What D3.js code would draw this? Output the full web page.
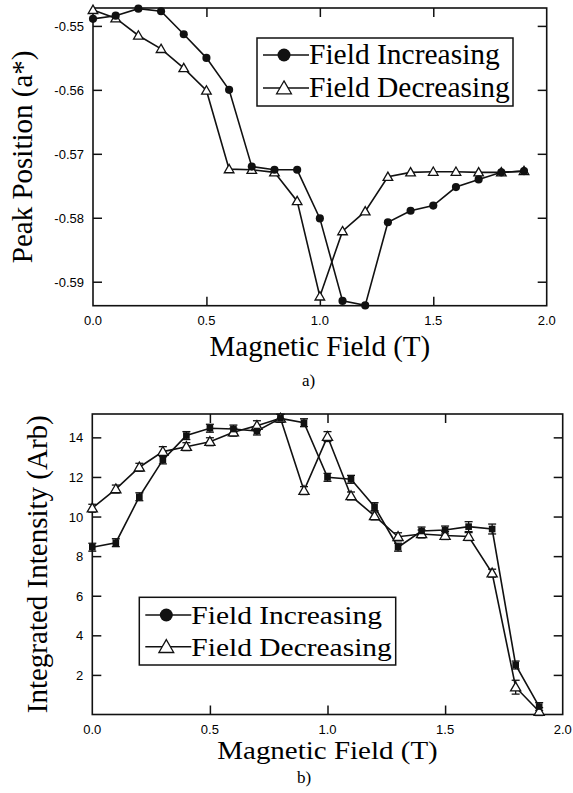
<!DOCTYPE html>
<html>
<head>
<meta charset="utf-8">
<script src="https://cdn.jsdelivr.net/npm/d3@7"></script>
<style>
  body { margin: 0; background: #fff; }
  svg { display: block; }
</style>
</head>
<body>
<div class="chart"></div>
<script>
// field values (T), shared by every series
const field = [0.0, 0.1, 0.2, 0.3, 0.4, 0.5, 0.6, 0.7, 0.8, 0.9, 1.0,
  1.1, 1.2, 1.3, 1.4, 1.5, 1.6, 1.7, 1.8, 1.9];

// panel a) peak position (a*)
const peakIncreasing = [-0.5489, -0.5484, -0.5473, -0.5477, -0.5513, -0.5550, -0.5600,
  -0.5720, -0.5725, -0.5725, -0.5801, -0.5930, -0.5937, -0.5807, -0.5789, -0.5781,
  -0.5752, -0.5740, -0.5729, -0.5727];
const peakDecreasing = [-0.5475, -0.5488, -0.5515, -0.5536, -0.5566, -0.5601, -0.5724,
  -0.5725, -0.5729, -0.5774, -0.5923, -0.5821, -0.5790, -0.5736, -0.5729, -0.5728,
  -0.5728, -0.5729, -0.5729, -0.5727];

// panel b) integrated intensity (arb)
const intIncreasing = [8.45, 8.68, 11.0, 12.86, 14.09, 14.46, 14.42, 14.32, 14.96, 14.74,
  11.98, 11.88, 10.5, 8.45, 9.27, 9.32, 9.49, 9.37, 2.5, 0.4];
const intDecreasing = [10.42, 11.39, 12.49, 13.28, 13.53, 13.78, 14.26, 14.59, 14.96, 11.31,
  14.04, 11.04, 10.03, 8.98, 9.12, 9.04, 8.99, 7.14, 1.38, 0.15];
const errIncreasing = [0.2, 0.2, 0.2, 0.2, 0.2, 0.2, 0.2, 0.2, 0.2, 0.2,
  0.2, 0.2, 0.2, 0.2, 0.2, 0.2, 0.25, 0.25, 0.2, 0.2];
const errDecreasing = [0.2, 0.2, 0.2, 0.25, 0.2, 0.2, 0.2, 0.25, 0.2, 0.2,
  0.25, 0.2, 0.2, 0.2, 0.2, 0.2, 0.2, 0.2, 0.35, 0.2];

const xTicks = [0.0, 0.5, 1.0, 1.5, 2.0];
const peakTicks = [-0.55, -0.56, -0.57, -0.58, -0.59];
const intTicks = [2, 4, 6, 8, 10, 12, 14];
const legendLabels = ['Field Increasing', 'Field Decreasing'];

const svg = d3.select('.chart')
  .append('svg')
  .attr('width', 573)
  .attr('height', 793);

const serif = '"Liberation Serif", "Times New Roman", serif';
const sans = '"Liberation Sans", Arial, sans-serif';

function drawPanel(p) {
  const x = d3.scaleLinear().domain([0, 2]).range([p.left, p.right]);
  const y = d3.scaleLinear().domain(p.yDomain).range([p.bottom, p.top]);
  const g = svg.append('g');

  // ticks, all pointing inward
  const inner = xTicks.filter(t => t > 0 && t < 2);
  g.append('g')
    .attr('transform', `translate(0, ${p.bottom})`)
    .call(d3.axisBottom(x).tickValues(inner).tickSize(-9).tickFormat(''));
  g.append('g')
    .attr('transform', `translate(0, ${p.top})`)
    .call(d3.axisTop(x).tickValues(inner).tickSize(-9).tickFormat(''));
  g.append('g')
    .attr('transform', `translate(${p.left}, 0)`)
    .call(d3.axisLeft(y).tickValues(p.yTicks).tickSize(-9).tickFormat(''));
  g.append('g')
    .attr('transform', `translate(${p.right}, 0)`)
    .call(d3.axisRight(y).tickValues(p.yTicks).tickSize(-9).tickFormat(''));
  g.selectAll('.domain').remove();
  g.selectAll('.tick line').attr('stroke', '#111').attr('stroke-width', 1.5);

  // frame
  g.append('rect')
    .attr('x', p.left).attr('y', p.top)
    .attr('width', p.right - p.left).attr('height', p.bottom - p.top)
    .attr('fill', 'none').attr('stroke', '#111').attr('stroke-width', 1.6);

  // tick labels
  g.selectAll('.xlab')
    .data(xTicks)
    .enter()
    .append('text')
    .attr('x', d => x(d))
    .attr('y', p.bottom + 19)
    .attr('text-anchor', 'middle')
    .style('font-family', sans).style('font-size', '13px')
    .text(d => d.toFixed(1));
  g.selectAll('.ylab')
    .data(p.yTicks)
    .enter()
    .append('text')
    .attr('x', p.left - 9)
    .attr('y', d => y(d) + 5)
    .attr('text-anchor', 'end')
    .style('font-family', sans).style('font-size', '13px')
    .text(p.yFormat);

  // axis titles
  g.append('text')
    .attr('transform', `translate(${(p.left + p.right) / 2}, ${p.xTitleY}) scale(1, ${p.xTitleScale})`)
    .attr('text-anchor', 'middle')
    .style('font-family', serif).style('font-size', '29px')
    .text('Magnetic Field (T)');
  g.append('text')
    .attr('transform', `translate(${p.yTitleX}, ${(p.top + p.bottom) / 2}) rotate(-90)`)
    .attr('text-anchor', 'middle')
    .style('font-family', serif).style('font-size', '29px')
    .text(p.yTitle);
  g.append('text')
    .attr('x', p.tagX).attr('y', p.tagY)
    .style('font-family', serif).style('font-size', '17px')
    .text(p.tag);

  const line = d3.line().x((d, i) => x(field[i])).y(d => y(d));
  const tri = d3.symbol().type(d3.symbolTriangle);

  [p.inc, p.dec].forEach(vals => {
    g.append('path')
      .datum(vals)
      .attr('d', line)
      .attr('fill', 'none')
      .attr('stroke', '#111')
      .attr('stroke-width', 1.6);
  });

  // error bars
  [[p.inc, p.incErr], [p.dec, p.decErr]].forEach(([vals, errs]) => {
    if (!errs) return;
    const eb = g.append('g').attr('stroke', '#111').attr('stroke-width', 1.3);
    vals.forEach((v, i) => {
      const cx = x(field[i]);
      const y0 = y(v - errs[i]), y1 = y(v + errs[i]);
      eb.append('line').attr('x1', cx).attr('x2', cx).attr('y1', y0).attr('y2', y1);
      eb.append('line').attr('x1', cx - 4).attr('x2', cx + 4).attr('y1', y0).attr('y2', y0);
      eb.append('line').attr('x1', cx - 4).attr('x2', cx + 4).attr('y1', y1).attr('y2', y1);
    });
  });

  g.selectAll('.dec')
    .data(p.dec)
    .enter()
    .append('path')
    .attr('transform', (d, i) => `translate(${x(field[i])}, ${y(d) + 0.8})`)
    .attr('d', tri.size(p.triSize))
    .attr('fill', '#fff')
    .attr('stroke', '#111')
    .attr('stroke-width', 1.3);

  g.selectAll('.inc')
    .data(p.inc)
    .enter()
    .append('path')
    .attr('transform', (d, i) => `translate(${x(field[i])}, ${y(d)})`)
    .attr('d', d3.symbol().type(p.dotShape).size(p.dotSize))
    .attr('fill', '#111');

  // legend
  const L = p.legend;
  g.append('rect')
    .attr('x', L.x).attr('y', L.y).attr('width', L.w).attr('height', L.h)
    .attr('fill', '#fff').attr('stroke', '#111').attr('stroke-width', 1.5);
  legendLabels.forEach((lab, i) => {
    const ry = L.y + L.row0 + i * L.rowGap;
    g.append('line')
      .attr('x1', L.x + 6).attr('x2', L.x + 52)
      .attr('y1', ry).attr('y2', ry)
      .attr('stroke', '#111').attr('stroke-width', 1.5);
    if (i === 0) {
      g.append('circle').attr('cx', L.x + 27).attr('cy', ry).attr('r', 6.5).attr('fill', '#111');
    } else {
      g.append('path')
        .attr('transform', `translate(${L.x + 27}, ${ry + 1.5})`)
        .attr('d', d3.symbol().type(d3.symbolTriangle).size(95))
        .attr('fill', '#fff').attr('stroke', '#111').attr('stroke-width', 1.3);
    }
    g.append('text')
      .attr('transform', `translate(${L.x + 52}, ${ry + 9}) scale(1, ${p.xTitleScale})`)
      .style('font-family', serif).style('font-size', '29.5px')
      .text(lab);
  });
}

drawPanel({
  left: 93, right: 546.7, top: 8, bottom: 305.7,
  yDomain: [-0.59375, -0.5472],
  yTicks: peakTicks,
  yFormat: d => d.toFixed(2),
  yTitle: 'Peak Position (a*)',
  yTitleX: 32,
  xTitleY: 356, xTitleScale: 1,
  tag: 'a)', tagX: 302, tagY: 386,
  inc: peakIncreasing, dec: peakDecreasing,
  dotShape: d3.symbolCircle, dotSize: 52, triSize: 40,
  legend: { x: 257, y: 38, w: 256, h: 68, row0: 17, rowGap: 33 }
});

drawPanel({
  left: 92.3, right: 562.7, top: 414, bottom: 714.5,
  yDomain: [0, 15.18],
  yTicks: intTicks,
  yFormat: d => d,
  yTitle: 'Integrated Intensity (Arb)',
  yTitleX: 47,
  xTitleY: 758.5, xTitleScale: 0.88,
  tag: 'b)', tagX: 297, tagY: 783,
  inc: intIncreasing, dec: intDecreasing,
  incErr: errIncreasing, decErr: errDecreasing,
  dotShape: d3.symbolSquare, dotSize: 44, triSize: 45,
  legend: { x: 139.3, y: 597.3, w: 256.4, h: 67.7, row0: 17.7, rowGap: 31.7 }
});
</script>
</body>
</html>
